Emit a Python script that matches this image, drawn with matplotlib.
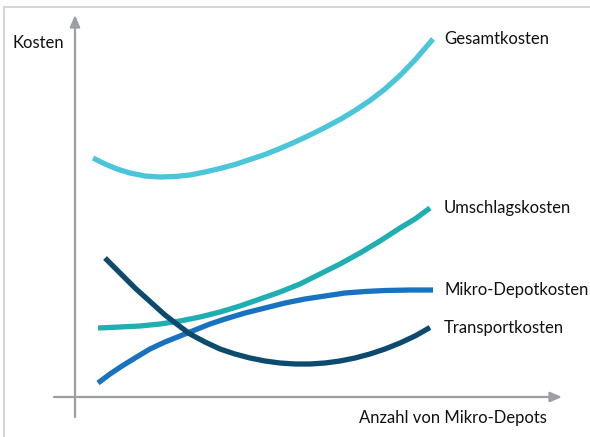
import matplotlib.pyplot as plt
from matplotlib.lines import Line2D

plt.rcParams['font.family'] = ['Lato', 'DejaVu Sans']

# values, in picture units
# (x: Anzahl von Mikro-Depots, y: Kosten)
gesamt_x = [18, 30, 42, 55, 70, 85, 100, 115, 130, 145, 160, 175, 190, 205,
            220, 235, 250, 265, 280, 295, 310, 325, 340, 358]
gesamt_y = [239, 233, 228, 224, 221, 220, 220.5, 222, 225, 228.5, 232.5, 237.5,
            242.5, 248.5, 255, 262, 269.5, 277.5, 286.5, 296.5, 308, 321.5, 337, 358]

umschlag_x = [23, 45, 65, 85, 105, 125, 145, 165, 185, 205, 225, 245, 265, 285,
              305, 325, 340, 355]
umschlag_y = [69, 70, 71, 73, 76, 80, 85, 91, 98, 105, 113, 123, 133, 144,
              156, 169, 178, 189]

mikro_x = [23, 35, 47, 60, 75, 90, 105, 120, 135, 150, 170, 190, 210, 230,
           250, 270, 290, 310, 335, 358]
mikro_y = [14, 23, 31, 39, 48, 55, 61, 67, 73, 78, 84, 89, 94, 98,
           101, 104, 105.5, 106.5, 107, 107]

transport_x = [30, 40, 50, 60, 70, 80, 90, 103, 115, 130, 145, 160, 175, 190,
               205, 220, 235, 250, 265, 280, 295, 310, 325, 340, 355]
transport_y = [139, 129, 119, 109, 100, 91, 82, 72, 63, 55, 48, 43, 39, 36,
               34, 33, 33, 34, 36, 39, 43, 48, 54, 61, 69.5]

series = [
    ("Gesamtkosten", gesamt_x, gesamt_y, "#4AC5D9"),
    ("Umschlagskosten", umschlag_x, umschlag_y, "#1FAEB2"),
    ("Mikro-Depotkosten", mikro_x, mikro_y, "#1773BF"),
    ("Transportkosten", transport_x, transport_y, "#0C4A6E"),
]

W, H = 590, 437
fig = plt.figure(figsize=(W / 100, H / 100), dpi=100)
# axis area: x 75..562 px, y 397..15 px
ax = fig.add_axes([75 / W, 1 - 397 / H, 487 / W, 382 / H])
ax.set_xlim(0, 487)
ax.set_ylim(0, 382)
ax.axis('off')

grey = "#9B9FA4"
arrow = dict(arrowstyle='-|>,head_length=0.7,head_width=0.3',
             color=grey, lw=1.6, shrinkA=0, shrinkB=0)
ax.annotate("", xy=(0, 382), xytext=(0, -20), arrowprops=arrow,
            annotation_clip=False)
ax.annotate("", xy=(487, 0), xytext=(-21, 0), arrowprops=arrow,
            annotation_clip=False)

for name, xs, ys, col in series:
    ax.plot(xs, ys, color=col, lw=3.8, solid_capstyle='butt',
            solid_joinstyle='round', clip_on=False)
    ax.text(369, ys[-1], name, fontsize=12, va='center', ha='left',
            color='#111111')

fig.text(12 / W, 1 - 43 / H, "Kosten", fontsize=12, va='center', ha='left',
         color='#111111')
fig.text(359 / W, 1 - 418 / H, "Anzahl von Mikro-Depots", fontsize=12,
         va='center', ha='left', color='#111111')

# light frame lines at top and left
fig.add_artist(Line2D([4 / W, 1], [1 - 7 / H, 1 - 7 / H], color="#D6D6D6", lw=1.5))
fig.add_artist(Line2D([4 / W, 4 / W], [0, 1 - 7 / H], color="#D6D6D6", lw=1.5))

fig.savefig("out.png", dpi=100)
